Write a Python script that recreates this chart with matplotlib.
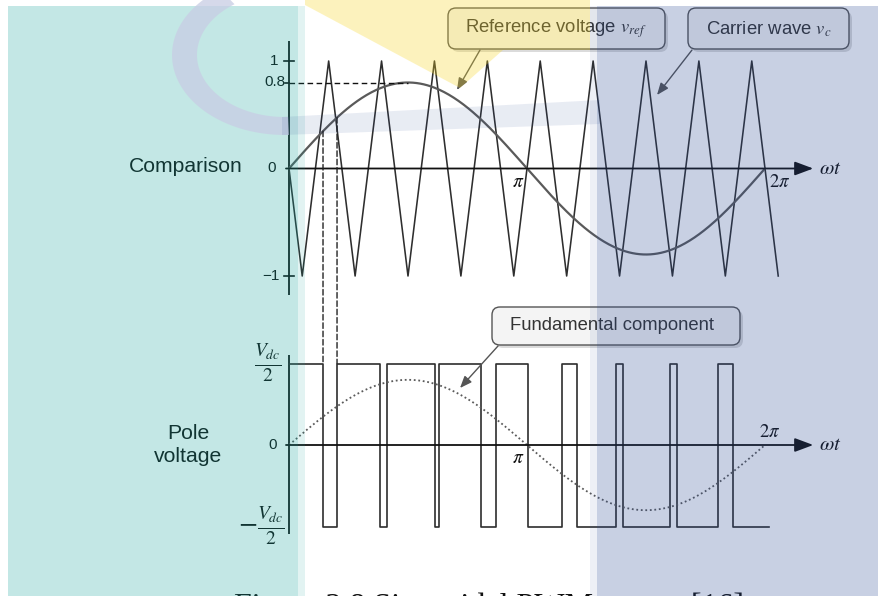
import numpy as np
import matplotlib
matplotlib.use("Agg")
import matplotlib.pyplot as plt
from matplotlib.patches import FancyBboxPatch, Polygon, Rectangle, ConnectionPatch

plt.rcParams['font.family'] = ['Liberation Sans', 'DejaVu Sans']
plt.rcParams['mathtext.fontset'] = 'stix'

# --- waveform description -------------------------------------------------
mod_index = 0.8        # reference amplitude (m_a)
freq_ratio = 9         # carrier cycles per fundamental period (m_f)
fund_amp = 0.8         # fundamental of pole voltage, in units of Vdc/2

# switching angles of the pole voltage (rad)
switch_angles = [0.449, 0.634, 1.201, 1.294, 1.927, 1.980, 2.534, 2.732, 3.155,
                 3.604, 3.802, 4.316, 4.409, 5.029, 5.122, 5.663, 5.861]
pwm_end = 6.34

top_ticks = [1, 0.8, 0, -1]
top_tick_labels = ['1', '0.8', '0', '\u22121']
top_tick_x = [-0.145, -0.04, -0.17, -0.12]

# --- layout helpers (pixels of the 879x596 picture) ------------------------
W, H = 879, 596
ORIGIN_X = 289
PX_PER_RAD = 476 / (2 * np.pi)
XLIM = (-0.2, 7.1)

fig = plt.figure(figsize=(W / 100, H / 100), dpi=100)
fig.patch.set_facecolor('white')


def panel(zero_y, px_per_unit, ylim):
    x0 = ORIGIN_X + XLIM[0] * PX_PER_RAD
    x1 = ORIGIN_X + XLIM[1] * PX_PER_RAD
    y_top = zero_y - ylim[1] * px_per_unit
    y_bot = zero_y - ylim[0] * px_per_unit
    ax = fig.add_axes([x0 / W, 1 - y_bot / H, (x1 - x0) / W, (y_bot - y_top) / H])
    ax.set_xlim(*XLIM)
    ax.set_ylim(*ylim)
    ax.axis('off')
    return ax


AX = '#111111'
WAVE = '#2e2e2e'
REF = '#5a5a5a'

ax_top = panel(168.5, 107.5, (-1.3, 1.3))
ax_bot = panel(445, 81.5, (-1.3, 1.3))


def draw_axes(ax, y_lo, y_hi):
    ax.plot([0, 0], [y_lo, y_hi], color=AX, lw=1.3, solid_capstyle='butt')
    ax.annotate('', xy=(6.92, 0), xytext=(-0.04, 0),
                arrowprops=dict(arrowstyle='-|>,head_length=0.75,head_width=0.28',
                                mutation_scale=15, color=AX, lw=1.3,
                                shrinkA=0, shrinkB=0))


# --- comparison panel ---
draw_axes(ax_top, -1.18, 1.19)
for yv in (1, -1):
    ax_top.plot([-0.06, 0.06], [yv, yv], color=AX, lw=1.2)
ax_top.plot([-0.05, 0], [0.8, 0.8], color=AX, lw=1.2)
for yv, lab, xv in zip(top_ticks, top_tick_labels, top_tick_x):
    ax_top.text(xv, yv, lab, ha='right', va='center', fontsize=11, color=AX)

T = 2 * np.pi / freq_ratio
k = np.arange(2 * freq_ratio + 1)
car_t = np.concatenate([[0], T / 4 + k * T / 2])
car_y = np.concatenate([[0], np.where(k % 2 == 0, -1, 1)])
ax_top.plot(car_t, car_y, color=WAVE, lw=1.15)

t = np.linspace(0, 2 * np.pi, 400)
ax_top.plot(t, mod_index * np.sin(t), color=REF, lw=1.6)
ax_top.plot([0, np.pi / 2], [mod_index, mod_index], color='#111111', lw=1.0,
            linestyle=(0, (4, 2.5)))

ax_top.text(3.02, -0.13, r'$\pi$', fontsize=14, ha='center', va='center', color=AX)
ax_top.text(6.48, -0.13, r'$2\pi$', fontsize=13.5, ha='center', va='center', color=AX)
ax_top.text(7.14, 0.0, r'$\omega t$', fontsize=15, ha='center', va='center', color=AX)

# --- pole voltage panel ---
draw_axes(ax_bot, -1.09, 1.11)
edges = [0] + switch_angles + [pwm_end]
levels = [1 if i % 2 == 0 else -1 for i in range(len(switch_angles) + 1)]
ax_bot.step(edges, levels + [levels[-1]], where='post', color=WAVE, lw=1.2)
ax_bot.plot(t, fund_amp * np.sin(t), color=REF, lw=1.3, linestyle=(0, (1, 1.5)))

ax_bot.text(-0.16, 0, '0', ha='right', va='center', fontsize=11, color=AX)
ax_bot.text(-0.28, 1.0, r'$\frac{V_{dc}}{2}$', ha='center', va='center',
            fontsize=20, color=AX)
ax_bot.text(-0.36, -1.0, r'$-\frac{V_{dc}}{2}$', ha='center', va='center',
            fontsize=20, color=AX)
ax_bot.text(3.03, -0.16, r'$\pi$', fontsize=14, ha='center', va='center', color=AX)
ax_bot.text(6.35, 0.15, r'$2\pi$', fontsize=13.5, ha='center', va='center', color=AX)
ax_bot.text(7.14, 0.0, r'$\omega t$', fontsize=15, ha='center', va='center', color=AX)

# dashed projections of the first two crossings
for a in switch_angles[:2]:
    con = ConnectionPatch(xyA=(a, mod_index * np.sin(a)), coordsA=ax_top.transData,
                          xyB=(a, 1), coordsB=ax_bot.transData,
                          color='#222222', lw=1.0, linestyle=(0, (4, 2)))
    fig.add_artist(con)

# --- decorations in pixel space ---------------------------------------------
deco = fig.add_axes([0, 0, 1, 1])
deco.set_xlim(0, W)
deco.set_ylim(H, 0)
deco.axis('off')
deco.patch.set_visible(False)
deco.set_zorder(5)

deco.text(186, 167, 'Comparison', ha='center', va='center', fontsize=15.2, color='#111111')
deco.text(188, 445, 'Pole\nvoltage', ha='center', va='center', fontsize=15.2,
          linespacing=1.3, color='#111111')

callouts = [
    (448, 8, 217, 41, 465, 29, 'Reference voltage $v_{ref}$'),
    (688, 8, 161, 41, 706, 29, 'Carrier wave $v_c$'),
    (492, 307, 248, 38, 510, 326, 'Fundamental component'),
]
for bx, by, bw, bh, tx, ty, label in callouts:
    deco.add_patch(FancyBboxPatch((bx + 3, by + 3), bw, bh,
                                  boxstyle='round,pad=0,rounding_size=8',
                                  fc='#9a9a9a', ec='none', alpha=0.35, zorder=1))
    deco.add_patch(FancyBboxPatch((bx, by), bw, bh,
                                  boxstyle='round,pad=0,rounding_size=8',
                                  fc='#f4f4f4', ec='#555555', lw=1.0, zorder=2))
    deco.text(tx, ty, label, ha='left', va='center', fontsize=13.3,
              color='#333333', zorder=3)

pointers = [((480, 50), (457, 90)), ((692, 50), (657, 95)), ((498, 346), (460, 388))]
for tail, tip in pointers:
    deco.annotate('', xy=tip, xytext=tail,
                  arrowprops=dict(arrowstyle='-|>,head_length=0.55,head_width=0.22',
                                  mutation_scale=13, color='#555555', lw=1.0,
                                  shrinkA=0, shrinkB=0), zorder=3)

# caption sits partly below the bottom edge, as in the source screenshot
deco.text(234, 615, 'Figure 2.8 Sinusoidal PWM output [16]', ha='left', va='baseline',
          fontsize=23, family='Liberation Serif', color='#111111')

# watermark overlay
teal = (19 / 255, 163 / 255, 155 / 255)
blue = (39 / 255, 71 / 255, 147 / 255)
yellow = (248 / 255, 215 / 255, 38 / 255)
deco.add_patch(Rectangle((8, 6), 290, 590, fc=teal, alpha=0.25, lw=0, zorder=10))
deco.add_patch(Rectangle((298, 6), 7, 590, fc=teal, alpha=0.12, lw=0, zorder=10))
deco.add_patch(Rectangle((597, 6), 282, 590, fc=blue, alpha=0.25, lw=0, zorder=10))
deco.add_patch(Rectangle((590, 6), 7, 590, fc=blue, alpha=0.08, lw=0, zorder=10))
deco.add_patch(Polygon([(305, 0), (590, 0), (590, 50), (503, 50), (460, 88), (305, 5)],
                       closed=True, fc=yellow, alpha=0.3, lw=0, zorder=10))

th = np.radians(np.linspace(125, 272, 60))
outer = np.column_stack([285 + 113 * np.cos(th), 55 - 80 * np.sin(th)])
inner = np.column_stack([285 + 88 * np.cos(th), 55 - 62 * np.sin(th)])[::-1]
deco.add_patch(Polygon(np.vstack([outer, inner]), closed=True, fc='#c8cde4',
                       alpha=0.75, lw=0, zorder=11))
deco.add_patch(Polygon([(282, 117), (600, 100), (600, 124), (282, 135)], closed=True,
                       fc=blue, alpha=0.1, lw=0, zorder=11))

fig.savefig('out.png', dpi=100)
